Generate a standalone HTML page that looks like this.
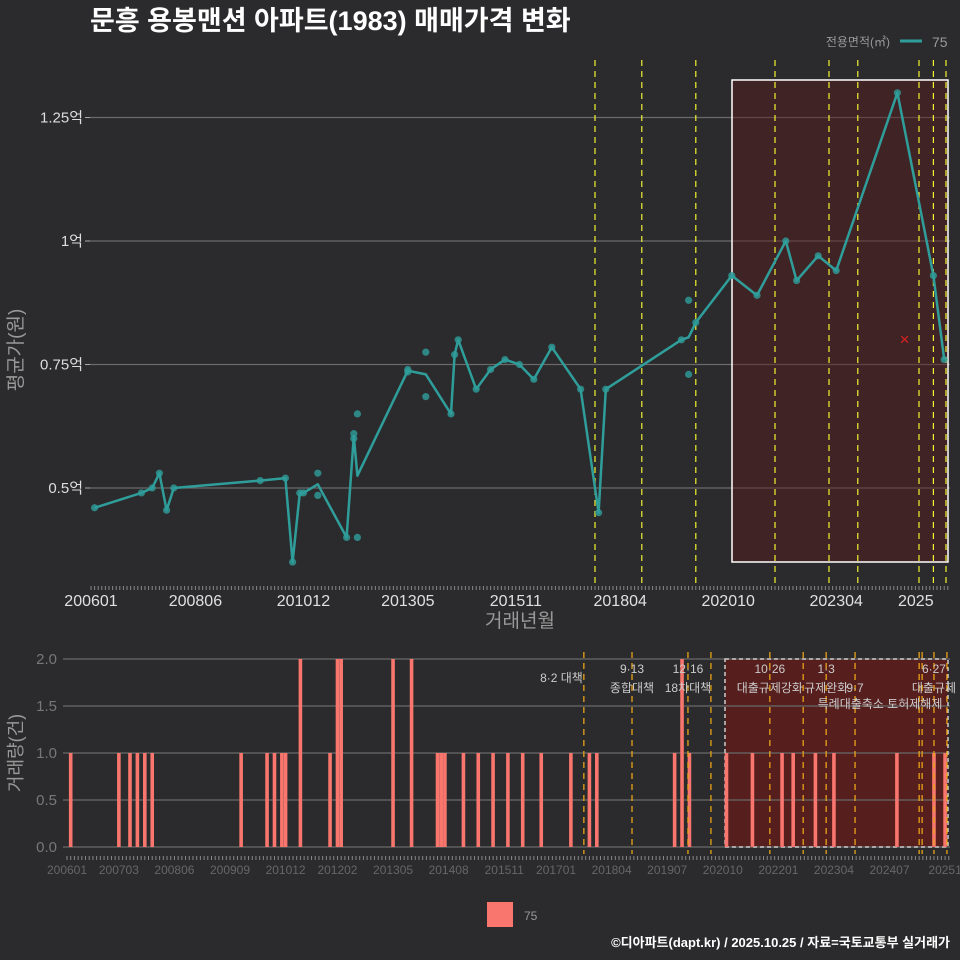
<!DOCTYPE html>
<html><head><meta charset="utf-8">
<style>
html,body{margin:0;padding:0;background:#2b2b2d;}
svg{display:block;font-family:"Liberation Sans","Noto Sans CJK KR",sans-serif;}
</style></head>
<body>
<svg id="c" width="960" height="960" viewBox="0 0 960 960">
<rect x="0" y="0" width="960" height="960" fill="#2b2b2d"/>
<text x="90" y="30" fill="#ffffff" font-size="27" font-weight="bold">문흥 용봉맨션 아파트(1983) 매매가격 변화</text>
<text x="890" y="46" fill="#999" font-size="12" text-anchor="end">전용면적(㎡)</text>
<line x1="900" y1="41" x2="922" y2="41" stroke="#2f9e9b" stroke-width="3"/>
<text x="932" y="47" fill="#999" font-size="14">75</text>
<g id="topG"></g>
<g id="botG"></g>
<rect x="487" y="902" width="26" height="25" fill="#f8766d"/>
<text x="524" y="920" fill="#999" font-size="12">75</text>
<text x="950" y="947" fill="#ffffff" font-size="13" font-weight="bold" text-anchor="end">©디아파트(dapt.kr) / 2025.10.25 / 자료=국토교통부 실거래가</text>
</svg>
<script>
// trade data: month index (0 = 2006-01) and price (억)
const tradeMonths = [1,14,17,19,21,23,47,54,56,58,59,63,63,71,73,73,74,74,88,88,93,93,100,101,102,107,111,115,119,123,128,136,141,143,164,166,166,168,178,185,193,196,202,207,224,234,237];
const tradePrices = [0.46,0.49,0.50,0.53,0.455,0.50,0.515,0.52,0.35,0.49,0.49,0.53,0.485,0.40,0.61,0.60,0.65,0.40,0.735,0.74,0.775,0.685,0.65,0.77,0.80,0.70,0.74,0.76,0.75,0.72,0.785,0.70,0.45,0.70,0.80,0.88,0.73,0.835,0.93,0.89,1.00,0.92,0.97,0.94,1.30,0.93,0.76];
const yTicks = [0.5,0.75,1,1.25];
const yTickLabels = ["0.5억","0.75억","1억","1.25억"];
const xTickMonths = [0,29,59,88,118,147,177,207,228];
const xTickLabels = ["200601","200806","201012","201305","201511","201804","202010","202304","2025"];
const topPolicyMonths = [140,153,168,190,205,213,230,234,237.5];
const botTickMonths = [0,14,29,44,59,73,88,103,118,132,147,162,177,192,207,222,237];
const botTickLabels = ["200601","200703","200806","200909","201012","201202","201305","201408","201511","201701","201804","201907","202010","202201","202304","202407","20251"];
const barTicks = [0,0.5,1,1.5,2];
const policyMonths = [139.5,152.5,167.6,173.8,189.7,198.7,204.9,212.7,230,230.8,234,237.5];
const policyTop = ["8·2 대책","9·13","12·16","10·26","1·3","6·27"];
const policyTopMonths = [139.5,152.5,167.6,189.7,204.9,234];
const policyBottom = ["종합대책","18차대책","대출규제강화","규제완화","9·7","대출규제"];
const policyBottomMonths = [152.5,167.6,189.7,204.9,212.7,234];
const outlierMonth = 226;
const outlierPrice = 0.80;

const NS="http://www.w3.org/2000/svg";
function mk(parent,tag,attrs,text){const e=document.createElementNS(NS,tag);for(const k in attrs)e.setAttribute(k,attrs[k]);if(text!==undefined)e.textContent=text;parent.appendChild(e);return e;}
const xT=m=>91+3.6*m, yT=v=>488-(v-0.5)*494;
const xB=m=>67+3.705*m, yB=v=>847-v*94;
const topG=document.getElementById('topG'), botG=document.getElementById('botG');

yTicks.forEach((v,i)=>{
  let g=mk(topG,'line',{x1:90,x2:950,y1:yT(v),y2:yT(v),stroke:'#6a6a6a','stroke-width':1.2});
  
  
  let tk=mk(topG,'line',{x1:85,x2:90,y1:yT(v),y2:yT(v),stroke:'#aaa'});
  
  
  let t=mk(topG,'text',{x:83,y:yT(v)+5,fill:'#ddd','font-size':15,'text-anchor':'end'},yTickLabels[i]);
  
  
});
let sr=mk(topG,'rect',{x:732,y:80,width:216,height:482,fill:'#5a1c1c','fill-opacity':0.45,stroke:'#ffffff','stroke-width':1.5});


topPolicyMonths.forEach(m=>{
  let l=mk(topG,'line',{x1:xT(m),x2:xT(m),y1:60,y2:585,stroke:'#f2f230','stroke-width':1.2,'stroke-dasharray':'6,5'});
  
  
});
for(let m=0;m<=238;m++){
  let l=mk(topG,'line',{x1:xT(m),x2:xT(m),y1:586,y2:590,stroke:'#888','stroke-width':1});
  
  
}
xTickMonths.forEach((m,i)=>{
  let t=mk(topG,'text',{x:xT(m)+(i==xTickLabels.length-1?4:0),y:606,fill:'#e0e0e0','font-size':16,'text-anchor':'middle'},xTickLabels[i]);
  
  
});
let xt=mk(topG,'text',{x:520,y:627,fill:'#999','font-size':19,'text-anchor':'middle'},'거래년월');


let yt=mk(topG,'text',{x:0,y:0,fill:'#999','font-size':19,'text-anchor':'middle',transform:'translate(22,350) rotate(-90)'},'평균가(원)');


const months=[...new Set(tradeMonths)].sort((a,b)=>a-b);
const avg=months.map(m=>{const v=tradePrices.filter((p,i)=>tradeMonths[i]===m);return v.reduce((a,b)=>a+b,0)/v.length;});
let pl=mk(topG,'polyline',{points:months.map((m,i)=>xT(m)+','+yT(avg[i])).join(' '),fill:'none',stroke:'#2f9e9b','stroke-width':2.5,'stroke-linejoin':'round'});


tradeMonths.forEach((m,i)=>{
  let c=mk(topG,'circle',{cx:xT(m),cy:yT(tradePrices[i]),r:3.6,fill:'#2f9e9b','fill-opacity':0.8});
  
  
});
let ox=mk(topG,'text',{x:xT(outlierMonth),y:yT(outlierPrice)+5,fill:'#e02020','font-size':17,'text-anchor':'middle'},'×');



let br=mk(botG,'rect',{x:725,y:659,width:223,height:188,fill:'#5a1e1e','fill-opacity':0.95});


barTicks.forEach(v=>{
  let g=mk(botG,'line',{x1:63,x2:950,y1:yB(v),y2:yB(v),stroke:'#6a6a6a','stroke-width':1.2});
  
  
  let t=mk(botG,'text',{x:57,y:yB(v)+5,fill:'#777','font-size':15,'text-anchor':'end'},v.toFixed(1));
  
  
});
let bdr=mk(botG,'rect',{x:725,y:659,width:223,height:188,fill:'none',stroke:'#ccc','stroke-width':1.5,'stroke-dasharray':'4,3'});


months.forEach(m=>{
  const n=tradeMonths.filter(x=>x===m).length;
  let b=mk(botG,'rect',{x:xB(m)-1.8,y:yB(n),width:3.6,height:yB(0)-yB(n),fill:'#f8766d'});
  
  
});
policyMonths.forEach(m=>{
  let l=mk(botG,'line',{x1:xB(m),x2:xB(m),y1:652,y2:854,stroke:'#e8a317','stroke-width':1.3,'stroke-dasharray':'6,5'});
  
  
});
policyTop.forEach((s,i)=>{
  let t=mk(botG,'text',{x:xB(policyTopMonths[i])+(i==0?-1:0),y:i==0?682:673,fill:'#ccc','font-size':12,'text-anchor':i==0?'end':'middle'},s);
  
  
});
policyBottom.forEach((s,i)=>{
  let t=mk(botG,'text',{x:xB(policyBottomMonths[i]),y:692,fill:'#ccc','font-size':12,'text-anchor':'middle'},s);
  
  
});
let ex=mk(botG,'text',{x:880,y:708,fill:'#ccc','font-size':12,'text-anchor':'middle'},'특례대출축소 토허제해제');


for(let m=0;m<=238;m++){
  let l=mk(botG,'line',{x1:xB(m),x2:xB(m),y1:856,y2:860,stroke:'#888','stroke-width':1});
  
  
}
botTickMonths.forEach((m,i)=>{
  let t=mk(botG,'text',{x:xB(m),y:874,fill:'#666','font-size':12,'text-anchor':'middle'},botTickLabels[i]);
  
  
});
let by=mk(botG,'text',{x:0,y:0,fill:'#999','font-size':18,'text-anchor':'middle',transform:'translate(22,753) rotate(-90)'},'거래량(건)');


</script>
</body></html>
